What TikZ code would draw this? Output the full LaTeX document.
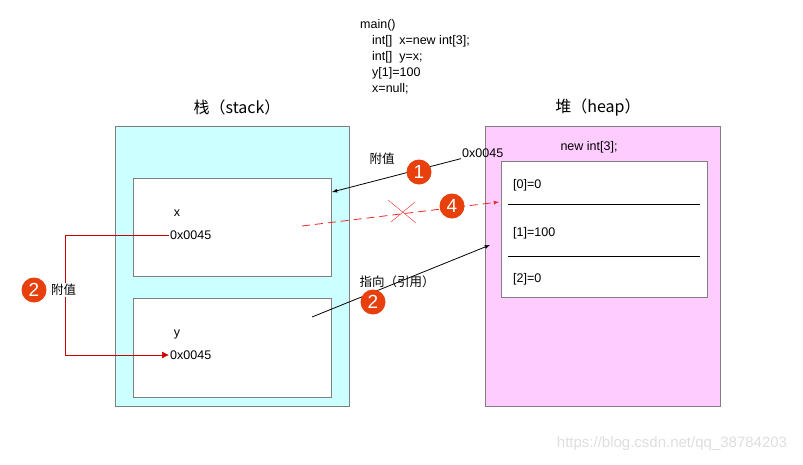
\documentclass[tikz,border=0pt]{standalone}
\usepackage{fontspec}
\setmainfont{Liberation Sans}
\newfontfamily\cjk{Noto Sans CJK SC}
\usetikzlibrary{arrows.meta}

\definecolor{stackfill}{HTML}{CCFFFF}
\definecolor{heapfill}{HTML}{FFCCFF}
\definecolor{boxline}{HTML}{7F7F80}
\definecolor{badge}{HTML}{E8400C}
\definecolor{refred}{HTML}{CC0000}
\definecolor{nullred}{HTML}{F02828}

\tikzset{
  area/.style={draw=boxline, line width=0.8pt},
  cell/.style={draw=boxline, fill=white, line width=0.8pt},
  txt/.style={font=\fontsize{12.5}{14}\selectfont, inner sep=1pt},
  title/.style={font=\fontsize{16}{18}\selectfont, inner sep=0pt},
  num/.style={circle, fill=badge, text=white, minimum size=25pt, inner sep=0pt,
    font=\fontsize{19}{19}\selectfont},
}

\begin{document}
\begin{tikzpicture}[x=1pt, y=-1pt]
  \useasboundingbox (0,0) rectangle (803,464);

  % Code
  \node[txt, anchor=north west, align=left, font=\fontsize{12.5}{16}\selectfont] (code) at (359,18)
    {main()\\
     \hspace*{12pt}int[]~~x=new int[3];\\
     \hspace*{12pt}int[]~~y=x;\\
     \hspace*{12pt}y[1]=100\\
     \hspace*{12pt}x=null;};

  % Stack
  \node[area, fill=stackfill, minimum width=234, minimum height=280] (stack) at (232,266) {};
  \node[title] (stacktitle) at (237,107) {\cjk 栈（stack）};
  \node[cell, minimum width=198, minimum height=98] (xbox) at (232,227) {};
  \node[cell, minimum width=198, minimum height=99] (ybox) at (232,347.5) {};
  \node[txt] (xname) at (177,213) {x};
  \node[txt, anchor=west] (xval) at (169,235) {0x0045};
  \node[txt] (yname) at (177,334) {y};
  \node[txt, anchor=west] (yval) at (169,355) {0x0045};

  % Heap
  \node[area, fill=heapfill, minimum width=235, minimum height=280] (heap) at (602.5,266) {};
  \node[title] (heaptitle) at (598,107) {\cjk 堆（heap）};
  \node[txt] (newarr) at (589,147) {new int[3];};
  \node[cell, minimum width=206, minimum height=136] (arr) at (604,229) {};
  \draw[line width=1pt] (508,204) -- (700,204);
  \draw[line width=1pt] (508,256) -- (700,256);
  \node[txt, anchor=west] (cell0) at (512,185) {[0]=0};
  \node[txt, anchor=west] (cell1) at (512,233) {[1]=100};
  \node[txt, anchor=west] (cell2) at (512,279) {[2]=0};

  % Assign x
  \node[txt, anchor=west] (addr) at (461,153) {0x0045};
  \coordinate (xin) at (332,192);
  \draw[-latex, thick] (addr.south west) -- (xin);
  \node[txt] (assign1) at (382,159) {\cjk 附值};
  \node[num] (n1) at (419,172) {1};

  % x=null
  \coordinate (xref) at (302,226);
  \coordinate (arrin) at (499,202);
  \draw[-latex, nullred, thick, dash pattern=on 8pt off 5pt] (xref) -- (arrin);
  \draw[nullred, thin] (388,200) -- (416,223);
  \draw[nullred, thin] (391,222) -- (415,202);
  \node[num] (n4) at (452,206) {4};

  % y points to array
  \coordinate (yref) at (312,317);
  \coordinate (arrptr) at (490,245);
  \draw[-latex, thick] (yref) -- (arrptr);
  \node[txt] (pointto) at (397,282) {\cjk 指向（引用）};
  \node[num] (n2) at (373,302) {2};

  % y=x
  \draw[-{Latex[length=7pt,width=7pt]}, refred, line width=0.7pt] (xval.west) -- (65,235) |- (yval.west);
  \node[num] (n2b) at (34,290) {2};
  \node[txt, fill=white, anchor=west] (assign2) at (50,290) {\cjk 附值};

  % Watermark
  \node[font=\fontsize{15}{17}\selectfont, text=black!13] (mark) at (672,444) {https://blog.csdn.net/qq\_38784203};
\end{tikzpicture}
\end{document}
